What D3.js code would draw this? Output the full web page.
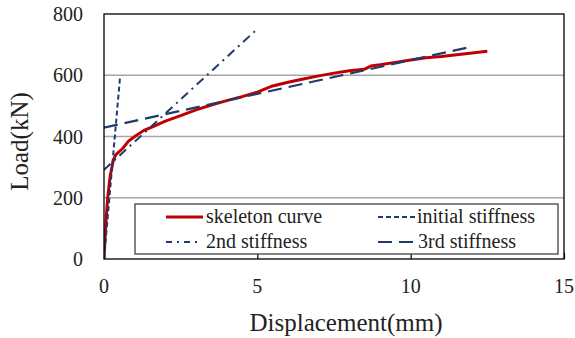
<!DOCTYPE html>
<html><head><meta charset="utf-8">
<script src="https://cdn.jsdelivr.net/npm/d3@7"></script>
<style>body{margin:0;background:#fff}svg{display:block}text{font-family:"Liberation Serif","Times New Roman",serif;fill:#222}</style>
</head><body><svg id="c" width="575" height="338"></svg>
<script>
const xTicks = [0, 5, 10, 15];
const yTicks = [0, 200, 400, 600, 800];
const skeletonDisp = [0,0.03,0.07,0.12,0.2,0.3,0.38,0.6,0.8,1.0,1.3,1.6,2.0,2.5,3.0,3.5,4.0,4.5,5.0,5.5,6.0,6.5,7.0,7.5,8.0,8.5,8.7,9.0,9.5,10.0,10.5,11.0,11.5,12.0,12.5];
const skeletonLoad = [0,60,130,200,270,320,340,360,385,400,420,432,450,468,487,503,517,530,545,565,577,588,598,607,615,620,630,634,642,650,657,661,667,673,678];
const initialDisp = [0, 0.52];
const initialLoad = [0, 590];
const secondDisp = [0, 5.03];
const secondLoad = [291, 754];
const thirdDisp = [0, 12.03];
const thirdLoad = [429, 694];
const legendLabels = ["skeleton curve", "initial stiffness", "2nd stiffness", "3rd stiffness"];

const svg = d3.select("#c");
const L = 104, R = 564, T = 14, B = 259;
const x = d3.scaleLinear().domain([0, 15]).range([L, R]);
const y = d3.scaleLinear().domain([0, 800]).range([B, T]);

// gridlines
svg.append("g").selectAll("line").data(yTicks.filter(v => v > 0 && v < 800)).join("line")
  .attr("x1", L).attr("x2", R).attr("y1", d => y(d)).attr("y2", d => y(d))
  .attr("stroke", "#a6a6a6").attr("stroke-width", 1.5);

// x axis ticks (inward)
const xa = svg.append("g").attr("transform", `translate(0,${B})`)
  .call(d3.axisBottom(x).tickValues(xTicks).tickSize(-6).tickFormat(""));
xa.select(".domain").remove();
xa.selectAll("line").attr("stroke", "#000").attr("stroke-width", 1.2);

svg.append("g").selectAll("text").data(xTicks).join("text")
  .attr("x", d => x(d)).attr("y", 293).attr("text-anchor", "middle")
  .style("font-size", "20px").text(d => d);
svg.append("g").selectAll("text").data(yTicks).join("text")
  .attr("x", 83).attr("y", d => y(d) + 7).attr("text-anchor", "end")
  .style("font-size", "20px").text(d => d);

const line = d3.line().x(d => x(d[0])).y(d => y(d[1]));
const navy = "#1f3a6e";
const series = [
  {d: d3.zip(initialDisp, initialLoad), c: navy, w: 2, dash: "5,3"},
  {d: d3.zip(secondDisp, secondLoad), c: navy, w: 2, dash: "9,5,2,5"},
  {d: d3.zip(thirdDisp, thirdLoad), c: navy, w: 2.2, dash: "14,7"},
];
const clip = svg.append("clipPath").attr("id", "pc").append("rect").attr("x", L).attr("y", T).attr("width", R - L).attr("height", B - T);
const g = svg.append("g").attr("clip-path", "url(#pc)");
g.append("path").attr("d", line(d3.zip(skeletonDisp, skeletonLoad))).attr("fill", "none")
  .attr("stroke", "#c00000").attr("stroke-width", 3).attr("stroke-linejoin", "round");
series.forEach(s => g.append("path").attr("d", line(s.d)).attr("fill", "none")
  .attr("stroke", s.c).attr("stroke-width", s.w).attr("stroke-dasharray", s.dash));

// frame
svg.append("rect").attr("x", L).attr("y", T).attr("width", R - L).attr("height", B - T)
  .attr("fill", "none").attr("stroke", "#000").attr("stroke-width", 1.3);

// legend
svg.append("rect").attr("x", 135).attr("y", 204).attr("width", 423).attr("height", 50)
  .attr("fill", "#fff").attr("stroke", "#333").attr("stroke-width", 1.2);
const leg = [
  {x1: 166, x2: 203, tx: 206, ly: 217, ty: 223, c: "#c00000", w: 3, dash: null},
  {x1: 378, x2: 417, tx: 417, ly: 217, ty: 223, c: navy, w: 2, dash: "5,3"},
  {x1: 166, x2: 198, tx: 206, ly: 242, ty: 248, c: navy, w: 2, dash: "6,5,2,5"},
  {x1: 378, x2: 416, tx: 418, ly: 242, ty: 248, c: navy, w: 2.2, dash: "14,7"},
];
leg.forEach((l, i) => {
  svg.append("line").attr("x1", l.x1).attr("x2", l.x2).attr("y1", l.ly).attr("y2", l.ly)
    .attr("stroke", l.c).attr("stroke-width", l.w).attr("stroke-dasharray", l.dash);
  svg.append("text").attr("x", l.tx).attr("y", l.ty).style("font-size", "20px").text(legendLabels[i]);
});

svg.append("text").attr("x", 346).attr("y", 331).attr("text-anchor", "middle")
  .style("font-size", "25px").text("Displacement(mm)");
svg.append("text").attr("transform", "translate(28,141.5) rotate(-90)").attr("text-anchor", "middle")
  .style("font-size", "25px").text("Load(kN)");
</script></body></html>
